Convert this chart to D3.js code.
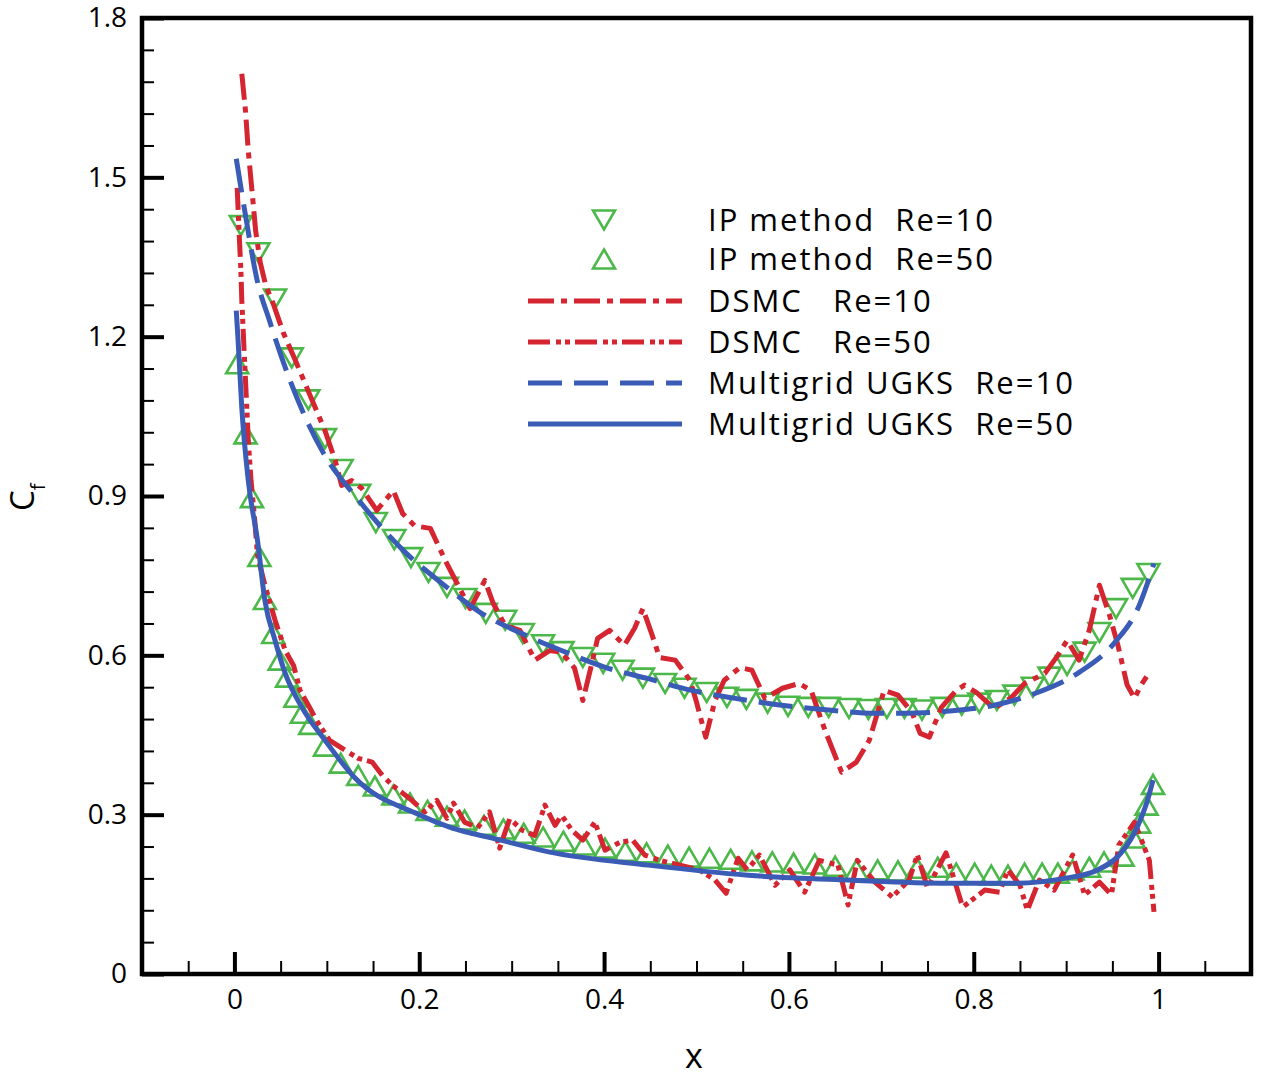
<!DOCTYPE html>
<html>
<head>
<meta charset="utf-8">
<title>Cf along plate</title>
<style type="text/css">
* { margin: 0; padding: 0; }
body { background: #fff; font-family: "Open Sans", sans-serif; }
text { font-family: "Open Sans", sans-serif; fill: #000; }
.axis path { display: none; }
.axis line { stroke: #000; }
.axis text { font-size: 28px; }
.legend text { font-size: 31px; letter-spacing: 2px; white-space: pre; }
</style>
<script src="https://cdnjs.cloudflare.com/ajax/libs/d3/7.8.5/d3.min.js"></script>
<script type="text/javascript">
/* Cf vs x : IP method, DSMC and multigrid UGKS at Re=10 and Re=50 */

// tick labels
var xTicks = [0, 0.2, 0.4, 0.6, 0.8, 1];
var yTicks = [0, 0.3, 0.6, 0.9, 1.2, 1.5, 1.8];

// IP method Re=10 (down triangles)
var ip10X = [0.007,0.026,0.044,0.062,0.080,0.098,0.116,0.135,0.153,0.173,0.191,0.210,0.230,0.250,0.272,0.293,0.312,0.334,0.355,0.377,0.399,0.420,0.442,0.466,0.487,0.511,0.533,0.554,0.577,0.599,0.621,0.643,0.665,0.686,0.706,0.725,0.744,0.766,0.787,0.806,0.825,0.844,0.864,0.882,0.901,0.920,0.936,0.954,0.972,0.989];
var ip10Y = [1.409,1.358,1.271,1.160,1.081,1.008,0.950,0.903,0.850,0.818,0.784,0.756,0.728,0.707,0.679,0.666,0.641,0.620,0.607,0.596,0.585,0.572,0.557,0.547,0.538,0.530,0.521,0.517,0.510,0.504,0.502,0.502,0.500,0.498,0.500,0.500,0.497,0.502,0.506,0.510,0.515,0.525,0.540,0.559,0.581,0.606,0.643,0.688,0.726,0.754];

// IP method Re=50 (up triangles)
var ip50X = [0.003,0.012,0.019,0.027,0.033,0.042,0.049,0.057,0.066,0.073,0.082,0.098,0.115,0.134,0.152,0.172,0.190,0.209,0.230,0.249,0.270,0.291,0.313,0.334,0.356,0.378,0.401,0.423,0.446,0.469,0.492,0.514,0.537,0.560,0.582,0.605,0.628,0.650,0.673,0.696,0.718,0.739,0.761,0.781,0.801,0.819,0.837,0.855,0.874,0.891,0.907,0.925,0.941,0.961,0.973,0.979,0.987,0.994];
var ip50Y = [1.149,1.017,0.897,0.786,0.705,0.641,0.591,0.559,0.521,0.491,0.470,0.429,0.397,0.374,0.354,0.337,0.322,0.308,0.297,0.290,0.280,0.273,0.265,0.258,0.250,0.243,0.237,0.231,0.228,0.224,0.220,0.218,0.216,0.213,0.211,0.209,0.207,0.203,0.196,0.196,0.194,0.199,0.201,0.190,0.190,0.186,0.186,0.190,0.190,0.190,0.196,0.201,0.211,0.222,0.256,0.284,0.318,0.357];

// DSMC Re=10
var dsmc10X = [0.008,0.012,0.015,0.019,0.023,0.028,0.034,0.042,0.053,0.066,0.082,0.098,0.109,0.116,0.127,0.138,0.154,0.172,0.182,0.195,0.212,0.228,0.242,0.255,0.271,0.280,0.293,0.309,0.325,0.341,0.354,0.368,0.377,0.385,0.393,0.406,0.422,0.433,0.442,0.452,0.460,0.477,0.493,0.500,0.510,0.520,0.530,0.547,0.560,0.574,0.593,0.611,0.624,0.639,0.657,0.673,0.687,0.703,0.718,0.733,0.742,0.752,0.765,0.781,0.790,0.803,0.822,0.841,0.855,0.877,0.891,0.901,0.914,0.925,0.936,0.947,0.956,0.966,0.974,0.981,0.987];
var dsmc10Y = [1.695,1.625,1.550,1.475,1.399,1.339,1.296,1.262,1.207,1.155,1.089,1.023,0.967,0.920,0.929,0.914,0.873,0.910,0.867,0.844,0.839,0.779,0.732,0.688,0.741,0.698,0.656,0.647,0.591,0.609,0.606,0.576,0.515,0.572,0.632,0.647,0.619,0.651,0.688,0.638,0.596,0.591,0.553,0.512,0.446,0.515,0.553,0.577,0.572,0.519,0.538,0.547,0.534,0.459,0.380,0.399,0.440,0.534,0.525,0.493,0.453,0.446,0.502,0.534,0.544,0.530,0.500,0.521,0.547,0.566,0.600,0.628,0.591,0.647,0.732,0.675,0.619,0.544,0.519,0.544,0.560];

// DSMC Re=50
var dsmc50X = [0.003,0.005,0.007,0.008,0.011,0.013,0.015,0.018,0.022,0.025,0.033,0.044,0.055,0.064,0.071,0.080,0.090,0.103,0.120,0.134,0.149,0.160,0.171,0.181,0.192,0.206,0.219,0.230,0.237,0.249,0.263,0.276,0.287,0.298,0.311,0.325,0.336,0.347,0.354,0.365,0.377,0.390,0.401,0.417,0.431,0.444,0.460,0.482,0.503,0.520,0.532,0.545,0.555,0.568,0.585,0.601,0.617,0.633,0.653,0.664,0.674,0.693,0.712,0.730,0.739,0.750,0.770,0.788,0.812,0.828,0.837,0.850,0.858,0.871,0.887,0.907,0.920,0.936,0.949,0.957,0.974,0.990,0.995];
var dsmc50Y = [1.480,1.399,1.324,1.268,1.155,1.080,1.004,0.929,0.854,0.788,0.732,0.666,0.609,0.581,0.534,0.506,0.474,0.440,0.421,0.406,0.399,0.374,0.355,0.342,0.327,0.305,0.327,0.293,0.322,0.286,0.275,0.305,0.237,0.293,0.271,0.261,0.318,0.280,0.299,0.271,0.252,0.286,0.233,0.248,0.252,0.224,0.214,0.205,0.196,0.177,0.152,0.218,0.196,0.224,0.167,0.196,0.154,0.214,0.205,0.130,0.214,0.173,0.145,0.177,0.224,0.162,0.228,0.126,0.158,0.154,0.196,0.167,0.120,0.177,0.158,0.224,0.149,0.173,0.149,0.243,0.286,0.214,0.117];

// Multigrid UGKS Re=10
var ugks10X = [0.002,0.013,0.024,0.038,0.059,0.095,0.135,0.186,0.225,0.265,0.311,0.354,0.402,0.448,0.495,0.542,0.592,0.643,0.693,0.725,0.773,0.822,0.869,0.914,0.952,0.979,0.995];
var ugks10Y = [1.535,1.418,1.311,1.230,1.123,0.985,0.891,0.792,0.735,0.682,0.641,0.609,0.577,0.556,0.534,0.519,0.506,0.497,0.491,0.491,0.495,0.506,0.530,0.568,0.623,0.694,0.773];

// Multigrid UGKS Re=50
var ugks50X = [0.002,0.004,0.008,0.015,0.025,0.033,0.044,0.055,0.073,0.098,0.130,0.200,0.232,0.286,0.340,0.448,0.556,0.664,0.772,0.844,0.898,0.934,0.959,0.977,0.988,0.994];
var ugks50Y = [1.249,1.192,1.066,0.929,0.816,0.703,0.628,0.566,0.502,0.440,0.370,0.300,0.277,0.253,0.230,0.205,0.186,0.177,0.171,0.171,0.180,0.196,0.227,0.277,0.327,0.365];

var RED = "#d42530", BLUE = "#3a5cb6", GREEN = "#4cb84a";

window.onload = function() {
  var W = 1276, H = 1082;
  var left = 142, right = 1251, top = 18, bottom = 974;

  var svg = d3.select("#chart").append("svg")
    .attr("width", W).attr("height", H);

  var x = d3.scaleLinear().domain([-0.1, 1.1]).range([left, right]);
  var y = d3.scaleLinear().domain([0, 1.8]).range([bottom, top]);

  svg.append("clipPath").attr("id", "plotClip")
    .append("rect").attr("x", left).attr("y", top)
    .attr("width", right - left).attr("height", bottom - top);

  // minor ticks
  var xMinor = d3.range(-0.05, 1.1, 0.05).filter(function(v) {
    return Math.abs(v / 0.2 - Math.round(v / 0.2)) > 1e-6;
  });
  var yMinor = d3.range(0.06, 1.8, 0.06).filter(function(v) {
    return Math.abs(v / 0.3 - Math.round(v / 0.3)) > 1e-6;
  });

  svg.append("g").attr("class", "axis")
    .attr("transform", "translate(0," + bottom + ")")
    .call(d3.axisBottom(x).tickValues(xMinor).tickSize(-13).tickFormat(""))
    .selectAll("line").attr("stroke-width", 2);
  svg.append("g").attr("class", "axis")
    .attr("transform", "translate(" + left + ",0)")
    .call(d3.axisLeft(y).tickValues(yMinor).tickSize(-12).tickFormat(""))
    .selectAll("line").attr("stroke-width", 2);

  var xAx = svg.append("g").attr("class", "axis")
    .attr("transform", "translate(0," + bottom + ")")
    .call(d3.axisBottom(x).tickValues(xTicks).tickSize(-22).tickPadding(15)
      .tickFormat(function(d) { return String(d); }));
  xAx.selectAll("line").attr("stroke-width", 4);

  var yAx = svg.append("g").attr("class", "axis")
    .attr("transform", "translate(" + left + ",0)")
    .call(d3.axisLeft(y).tickValues(yTicks).tickSize(-22).tickPadding(15)
      .tickFormat(function(d) { return d3.format(".1f")(d).replace(/^0\.0$/, "0"); }));
  yAx.selectAll("line").attr("stroke-width", 4);

  // frame
  svg.append("rect")
    .attr("x", left).attr("y", top)
    .attr("width", right - left).attr("height", bottom - top)
    .attr("fill", "none").attr("stroke", "#000").attr("stroke-width", 4.5);

  // axis titles
  svg.append("text").attr("x", 694).attr("y", 1068)
    .attr("text-anchor", "middle").style("font-size", "34px").text("x");
  var yt = svg.append("text")
    .attr("transform", "translate(34,511) rotate(-90)")
    .style("font-size", "33px");
  yt.append("tspan").text("C");
  yt.append("tspan").attr("dy", 11).style("font-size", "20px").text("f");

  var plot = svg.append("g").attr("clip-path", "url(#plotClip)");

  var downTri = "M-11,-9.5L11,-9.5L0,9.5Z";
  var upTri = "M0,-9.5L11,9.5L-11,9.5Z";

  function zip(xs, ys) { return xs.map(function(v, i) { return [v, ys[i]]; }); }

  function markers(pts, shape) {
    plot.append("g").selectAll("path").data(pts).enter().append("path")
      .attr("d", shape)
      .attr("transform", function(d) { return "translate(" + x(d[0]) + "," + y(d[1]) + ")"; })
      .attr("fill", "none").attr("stroke", GREEN).attr("stroke-width", 2.6);
  }
  markers(zip(ip10X, ip10Y), downTri);
  markers(zip(ip50X, ip50Y), upTri);

  var line = d3.line().x(function(d) { return x(d[0]); }).y(function(d) { return y(d[1]); });
  var smooth = d3.line().curve(d3.curveMonotoneX)
    .x(function(d) { return x(d[0]); }).y(function(d) { return y(d[1]); });

  var DASH_DOT = "26,7,6,7";
  var DASH_DOT_DOT = "22,6,5,4,5,5";
  var DASHED = "34,12";

  function curve(pts, gen, color, dash) {
    plot.append("path").datum(pts)
      .attr("d", gen)
      .attr("fill", "none").attr("stroke", color).attr("stroke-width", 5)
      .attr("stroke-dasharray", dash).attr("stroke-linejoin", "round");
  }
  curve(zip(dsmc10X, dsmc10Y), line, RED, DASH_DOT);
  curve(zip(dsmc50X, dsmc50Y), line, RED, DASH_DOT_DOT);
  curve(zip(ugks10X, ugks10Y), smooth, BLUE, DASHED);
  curve(zip(ugks50X, ugks50Y), smooth, BLUE, null);

  // legend
  var legendRows = [
    { label: "IP method  Re=10", kind: "down", y: 220 },
    { label: "IP method  Re=50", kind: "up", y: 259 },
    { label: "DSMC   Re=10", kind: "line", color: RED, dash: DASH_DOT, y: 301 },
    { label: "DSMC   Re=50", kind: "line", color: RED, dash: DASH_DOT_DOT, y: 342 },
    { label: "Multigrid UGKS  Re=10", kind: "line", color: BLUE, dash: DASHED, y: 383 },
    { label: "Multigrid UGKS  Re=50", kind: "line", color: BLUE, dash: null, y: 424 }
  ];
  var lg = svg.append("g").attr("class", "legend");
  legendRows.forEach(function(r) {
    if (r.kind == "line") {
      lg.append("line").attr("x1", 528).attr("x2", 682).attr("y1", r.y).attr("y2", r.y)
        .attr("stroke", r.color).attr("stroke-width", 5).attr("stroke-dasharray", r.dash);
    } else {
      lg.append("path").attr("d", r.kind == "down" ? downTri : upTri)
        .attr("transform", "translate(604," + r.y + ")")
        .attr("fill", "none").attr("stroke", GREEN).attr("stroke-width", 2.6);
    }
    lg.append("text").attr("x", 708).attr("y", r.y).attr("dy", "0.36em")
      .attr("xml:space", "preserve").text(r.label);
  });
};
</script>
</head>
<body>
<div id="chart"></div>
</body>
</html>
